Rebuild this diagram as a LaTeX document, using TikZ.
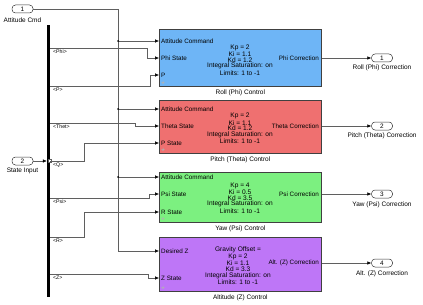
\documentclass[tikz,border=0pt]{standalone}
\usepackage{fontspec}
\setmainfont{Liberation Sans}
\usetikzlibrary{arrows.meta,calc}
\definecolor{RollClr}{RGB}{110,181,246}
\definecolor{PitchClr}{RGB}{239,112,112}
\definecolor{YawClr}{RGB}{124,240,128}
\definecolor{AltClr}{RGB}{190,118,247}
\definecolor{WireClr}{RGB}{95,95,95}

\tikzset{
  ctlblock/.style={draw=black!75,line width=.6pt,minimum width=162pt,anchor=north west,inner sep=0pt},
  inport/.style={draw=black!80,line width=.5pt,rounded corners=3.5pt,minimum width=21pt,minimum height=8pt,inner sep=0pt,font=\fontsize{6.4}{6}\selectfont},
  sig/.style={draw=WireClr,line width=.5pt,-{Latex[length=4pt,width=3.6pt,black]}},
  wire/.style={draw=WireClr,line width=.5pt},
  portlbl/.style={font=\fontsize{6.3}{6}\selectfont,inner sep=0pt},
  gainlbl/.style={font=\fontsize{6.6}{5.7}\selectfont,align=center,inner sep=0pt},
  blklbl/.style={font=\fontsize{6.5}{6}\selectfont,inner sep=0pt},
  buslbl/.style={font=\fontsize{5.2}{5}\selectfont,inner sep=0pt,anchor=west},
  resetmk/.style={draw=black!30,line width=.5pt}
}

\begin{document}
\begin{tikzpicture}[x=1pt,y=-1pt]
\useasboundingbox (0,0) rectangle (423,305);

\node[inport] (in1) at (22.5,9) {1};
\node[blklbl] (in1lbl) at (22.5,20) {Attitude Cmd};
\node[inport] (in2) at (22.5,161) {2};
\node[blklbl] (in2lbl) at (22.5,170.5) {State Input};

\node[fill=black,minimum width=3pt,minimum height=272pt,inner sep=0pt] (bus) at (48.5,161) {};

\node[ctlblock,fill=RollClr,minimum height=57pt] (roll) at (159,29) {};
\node[ctlblock,fill=PitchClr,minimum height=53pt] (pitch) at (159,100) {};
\node[ctlblock,fill=YawClr,minimum height=50pt] (yaw) at (159,172) {};
\node[ctlblock,fill=AltClr,minimum height=54pt] (alt) at (159,237) {};

\node[gainlbl] (rollK) at (240,60) {Kp = 2\\Ki = 1.1\\Kd = 1.2\\Integral Saturation: on\\Limits: 1 to -1};
\node[gainlbl] (pitchK) at (240,128.5) {Kp = 2\\Ki = 1.1\\Kd = 1.2\\Integral Saturation: on\\Limits: 1 to -1};
\node[gainlbl] (yawK) at (240,198) {Kp = 4\\Ki = 0.5\\Kd = 3.5\\Integral Saturation: on\\Limits: 1 to -1};
\node[gainlbl] (altK) at (238,265.5) {Gravity Offset =\\Kp = 2\\Ki = 1.1\\Kd = 3.3\\Integral Saturation: on\\Limits: 1 to -1};

\node[blklbl,below=2.5pt] (rolllbl) at (roll.south) {Roll (Phi) Control};
\node[blklbl,below=2.5pt] (pitchlbl) at (pitch.south) {Pitch (Theta) Control};
\node[blklbl,below=2.5pt] (yawlbl) at (yaw.south) {Yaw (Psi) Control};
\node[blklbl,below=2.5pt] (altlbl) at (alt.south) {Altitude (Z) Control};

\coordinate (rollA) at (159,41);
\coordinate (rollB) at (159,58);
\coordinate (rollC) at (159,75);
\coordinate (pitchA) at (159,109);
\coordinate (pitchB) at (159,126);
\coordinate (pitchC) at (159,143);
\coordinate (yawA) at (159,177);
\coordinate (yawB) at (159,194);
\coordinate (yawC) at (159,212);
\coordinate (altA) at (159,251);
\coordinate (altB) at (159,278);

\node[portlbl,anchor=west] at ($(rollA)+(2,0)$) {Attitude Command};
\node[portlbl,anchor=west] at ($(rollB)+(2,0)$) {Phi State};
\node[portlbl,anchor=west] at ($(rollC)+(2,0)$) {P};
\node[portlbl,anchor=west] at ($(pitchA)+(2,0)$) {Attitude Command};
\node[portlbl,anchor=west] at ($(pitchB)+(2,0)$) {Theta State};
\node[portlbl,anchor=west] at ($(pitchC)+(2,0)$) {P State};
\node[portlbl,anchor=west] at ($(yawA)+(2,0)$) {Attitude Command};
\node[portlbl,anchor=west] at ($(yawB)+(2,0)$) {Psi State};
\node[portlbl,anchor=west] at ($(yawC)+(2,0)$) {R State};
\node[portlbl,anchor=west] at ($(altA)+(2,0)$) {Desired Z};
\node[portlbl,anchor=west] at ($(altB)+(2,0)$) {Z State};

\node[portlbl,anchor=east] at (319,58) {Phi Correction};
\node[portlbl,anchor=east] at (319,126) {Theta Correction};
\node[portlbl,anchor=east] at (319,194) {Psi Correction};
\node[portlbl,anchor=east] at (319,263) {Alt. (Z) Correction};

\foreach \b in {roll,pitch,yaw,alt}
  \draw[resetmk] ($(\b.south west)+(4,-6)$) -- ++(0,3) ($(\b.south west)+(2.5,-4.5)$) -- ++(1.5,1.5) -- ++(1.5,-1.5);

\node[inport] (out1) at (382,58) {1};
\node[inport] (out2) at (382,126) {2};
\node[inport] (out3) at (382,194) {3};
\node[inport] (out4) at (382,263) {4};
\node[blklbl] at (382,68) {Roll (Phi) Correction};
\node[blklbl] at (382,136) {Pitch (Theta) Correction};
\node[blklbl] at (382,204.5) {Yaw (Psi) Correction};
\node[blklbl] at (382,273.5) {Alt. (Z) Correction};

\draw[sig] (roll.east |- out1) -- (out1.west);
\draw[sig] (pitch.east |- out2) -- (out2.west);
\draw[sig] (yaw.east |- out3) -- (out3.west);
\draw[sig] (alt.east |- out4) -- (out4.west);

\coordinate (trunk) at (118,9);
\draw[sig] (in1.east) -- (trunk) |- (altA);
\foreach \p in {rollA,pitchA,yawA}{
  \draw[sig] (trunk |- \p) -- (\p);
  \fill[black] (trunk |- \p) circle (1pt);
}

\draw[sig] (in2.east) -- (bus.west |- in2);
\draw[wire,fill=white] ($(bus.east |- in2)+(-1.5,-1.5)$) rectangle ++(2.5,3);

\draw[sig] (bus.east |- 0,48) -- (147,48) |- (rollB);
\draw[sig] (bus.east |- 0,86) -- (150,86) |- (rollC);
\draw[sig] (bus.east |- 0,123) -- (135,123) |- (pitchB);
\draw[sig] (bus.east |- 0,161) -- (84,161) |- (pitchC);
\draw[sig] (bus.east |- 0,198) -- (149,198) |- (yawB);
\draw[sig] (bus.east |- 0,237) -- (84,237) |- (yawC);
\draw[sig] (bus.east |- 0,274) -- (148,274) |- (altB);

\node[buslbl] at (53,52) {\textless Phi\textgreater};
\node[buslbl] at (53,90) {\textless P\textgreater};
\node[buslbl] at (53,127) {\textless Thet\textgreater};
\node[buslbl] at (53,165) {\textless Q\textgreater};
\node[buslbl] at (53,202) {\textless Psi\textgreater};
\node[buslbl] at (53,241) {\textless R\textgreater};
\node[buslbl] at (53,278) {\textless Z\textgreater};

\end{tikzpicture}
\end{document}
